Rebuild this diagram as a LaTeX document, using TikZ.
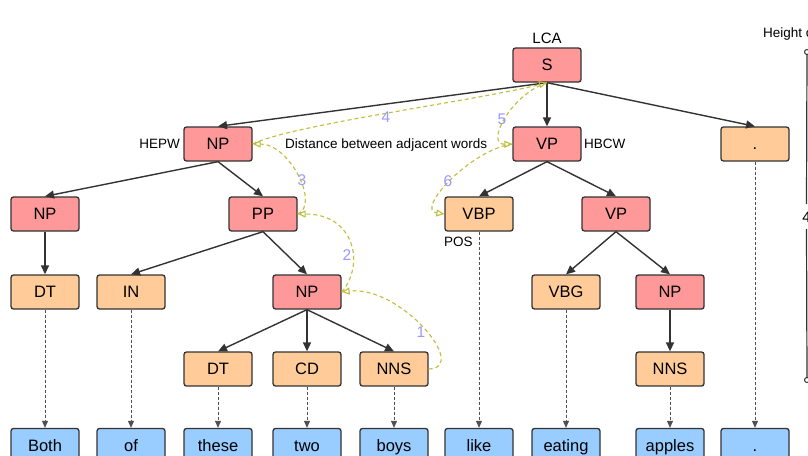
\documentclass[tikz,border=0pt]{standalone}
\usepackage{fontspec}
\setmainfont{Liberation Sans}
\usetikzlibrary{arrows.meta}
\definecolor{phrfill}{RGB}{255,153,153}
\definecolor{posfill}{RGB}{255,204,153}
\definecolor{wordfill}{RGB}{153,204,255}
\definecolor{boxline}{RGB}{51,51,51}
\definecolor{depline}{RGB}{80,80,80}
\definecolor{distcol}{RGB}{190,190,60}
\definecolor{numcol}{RGB}{153,153,255}
\begin{document}
\begin{tikzpicture}[x=1pt,y=-1pt,
  box/.style={rectangle,rounded corners=2.5pt,draw=boxline,line width=1.3pt,
    minimum width=68pt,minimum height=34pt,inner sep=0pt,
    font=\fontsize{16.5}{19}\selectfont,text height=11.8pt,text depth=0pt},
  phr/.style={box,fill=phrfill},
  posbox/.style={box,fill=posfill},
  wordbox/.style={box,fill=wordfill},
  lbl/.style={inner sep=0pt,font=\fontsize{13.5}{16}\selectfont,text height=9.7pt,text depth=0pt},
  num/.style={inner sep=0pt,text=numcol,font=\fontsize{15.5}{18}\selectfont,text height=11pt,text depth=0pt},
  treeedge/.style={draw=boxline,line width=1.4pt,-{Triangle[length=9pt,width=8pt]}},
  depedge/.style={draw=depline,line width=0.9pt,dash pattern=on 3pt off 2pt,-{Triangle[length=7pt,width=6pt]}},
  distedge/.style={draw=distcol,line width=1.1pt,dash pattern=on 4pt off 3pt,-{Triangle[open,length=8pt,width=7pt]}}
]
\clip (0,0) rectangle (808,455);
\fill[white] (0,0) rectangle (808,455);

% phrase / POS nodes
\node[phr] (S) at (547,65) {S};
\node[phr] (NPh) at (218,144) {NP};
\node[phr] (VPh) at (547,144) {VP};
\node[posbox] (PUN) at (755,144) {.};
\node[phr] (NPa) at (45,214) {NP};
\node[phr] (PP) at (263,214) {PP};
\node[posbox] (VBP) at (479,214) {VBP};
\node[phr] (VPb) at (616,214) {VP};
\node[posbox] (DTa) at (45,292) {DT};
\node[posbox] (IN) at (131,292) {IN};
\node[phr] (NPc) at (307,292) {NP};
\node[posbox] (VBG) at (566,292) {VBG};
\node[phr] (NPd) at (670,292) {NP};
\node[posbox] (DTb) at (218,369) {DT};
\node[posbox] (CD) at (307,369) {CD};
\node[posbox] (NNSa) at (394,369) {NNS};
\node[posbox] (NNSb) at (670,369) {NNS};

% words
\node[wordbox] (wBoth) at (45,445.5) {Both};
\node[wordbox] (wof) at (131,445.5) {of};
\node[wordbox] (wthese) at (218,445.5) {these};
\node[wordbox] (wtwo) at (307,445.5) {two};
\node[wordbox] (wboys) at (394,445.5) {boys};
\node[wordbox] (wlike) at (479,445.5) {like};
\node[wordbox] (weating) at (566,445.5) {eating};
\node[wordbox] (wapples) at (670,445.5) {apples};
\node[wordbox] (wdot) at (755,445.5) {.};

% tree edges
\foreach \a/\b in {S/NPh,S/VPh,S/PUN,NPh/NPa,NPh/PP,PP/IN,PP/NPc,NPc/DTb,NPc/CD,NPc/NNSa,NPa/DTa,VPh/VBP,VPh/VPb,VPb/VBG,VPb/NPd,NPd/NNSb}
  \draw[treeedge] (\a.south) -- (\b.north);

% POS to word edges
\foreach \a/\b in {DTa/wBoth,IN/wof,DTb/wthese,CD/wtwo,NNSa/wboys,VBP/wlike,VBG/weating,NNSb/wapples,PUN/wdot}
  \draw[depedge] (\a.south) -- (\b.north);

% labels
\node[lbl] (lca) at (547,38.5) {\fontsize{15}{17}\selectfont LCA};
\node[lbl,anchor=east] (hepw) at (180,144) {HEPW};
\node[lbl,anchor=west] (hbcw) at (584,144) {HBCW};
\node[lbl,anchor=west] (posl) at (444,242) {POS};
\node[lbl,anchor=west] (dist) at (285,144) {Distance between adjacent words};
\node[lbl,anchor=west] (height) at (763,33) {Height of the tree};

% distance path
\draw[distedge] (NNSa.east) .. controls (470,368) and (400,285) .. (NPc.east);
\draw[distedge] (NPc.east) .. controls (365,265) and (355,214) .. (PP.east);
\draw[distedge] (PP.east) .. controls (320,205) and (290,144) .. (NPh.east);
\draw[distedge] (NPh.east) .. controls (290,125) and (480,100) .. (S.south);
\draw[distedge] (S.south) .. controls (510,95) and (485,145) .. (VPh.west);
\draw[distedge] (VPh.west) .. controls (470,150) and (415,210) .. (VBP.west);

\node[num] (n1) at (421,332) {1};
\node[num] (n2) at (347,255) {2};
\node[num] (n3) at (302,180) {3};
\node[num] (n4) at (386,117) {4};
\node[num] (n5) at (502,119) {5};
\node[num] (n6) at (448,181) {6};

% height bracket
\coordinate (htop) at (807,52);
\coordinate (hbot) at (807,380);
\node[inner sep=0pt,font=\fontsize{15}{17}\selectfont,text height=10.7pt,text depth=0pt] (hval) at (806.5,217) {4};
\draw[boxline,line width=1.2pt] (htop) -- (hval.north |- 0,204);
\draw[boxline,line width=1.2pt] (hval.south |- 0,229) -- (hbot);
\draw[boxline,line width=1pt,fill=white] (htop) circle (2.5pt);
\draw[boxline,line width=1pt,fill=white] (hbot) circle (2.5pt);
\end{tikzpicture}
\end{document}
